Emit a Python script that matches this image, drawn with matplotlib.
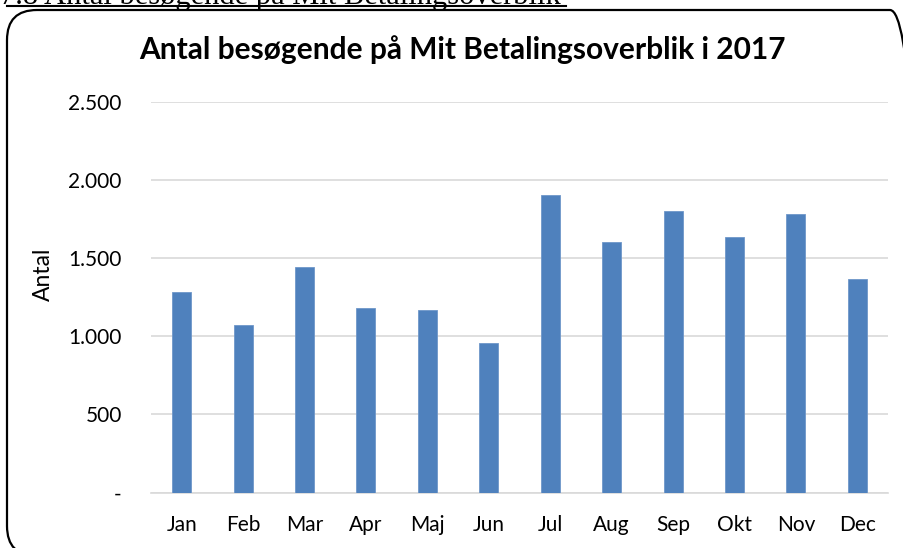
#!/usr/bin/env python3
# Bar chart: visitors on Mit Betalingsoverblik per month, 2017

from matplotlib import pyplot as plt
from matplotlib.patches import FancyBboxPatch
from matplotlib.lines import Line2D
from matplotlib.transforms import IdentityTransform
from matplotlib.ticker import FuncFormatter

months = ["Jan", "Feb", "Mar", "Apr", "Maj", "Jun", "Jul", "Aug", "Sep", "Okt", "Nov", "Dec"]
visitors = [1282, 1071, 1442, 1180, 1167, 956, 1902, 1602, 1804, 1638, 1781, 1365]
yTicks = [0, 500, 1000, 1500, 2000, 2500]

W, H = 904, 548
fig = plt.figure(figsize=(W / 100, H / 100), dpi=100)

# section heading above the chart box, mostly cut off at the top
fig.text(0 / W, 1 - 4 / H, "7.8 Antal besøgende på Mit Betalingsoverblik", family="Liberation Serif",
         fontsize=22, va="baseline", ha="left")
fig.add_artist(Line2D([7 / W, 566 / W], [1 - 5.5 / H, 1 - 5.5 / H], color="black", linewidth=1.5))

# rounded frame round the chart (pixel coords, origin bottom-left)
frame = FancyBboxPatch((7, H - 556), 913, 546, boxstyle="round,pad=0,rounding_size=30",
                       transform=IdentityTransform(), facecolor="none", edgecolor="black", linewidth=1.6)
fig.add_artist(frame)

ax = fig.add_axes([151 / W, 1 - 492.5 / H, 737 / W, 390.5 / H])
ax.bar(months, visitors, width=0.31, color="#4f81bd", edgecolor="#6f97c9", linewidth=0.6, zorder=3)
ax.set_ylim(0, 2500)
ax.set_xlim(-0.5, 11.5)
ax.set_yticks(yTicks)
ax.yaxis.set_major_formatter(FuncFormatter(lambda v, p: "-" if v == 0 else f"{int(v):,}".replace(",", ".")))
ax.grid(axis="y", color="#d9d9d9", linewidth=1.2, zorder=0)
for side in ["top", "right", "left"]:
    ax.spines[side].set_visible(False)
ax.spines["bottom"].set_color("#d9d9d9")
ax.spines["bottom"].set_linewidth(1.2)
ax.tick_params(length=0, labelsize=15, colors="black")
ax.tick_params(axis="y", pad=21)
ax.tick_params(axis="x", pad=16)
for lbl in ax.get_xticklabels() + ax.get_yticklabels():
    lbl.set_family("Lato")
ax.set_ylabel("Antal", fontsize=16.5, family="Lato")
ax.yaxis.set_label_coords(-97 / 737, 0.56)

fig.text(462 / W, 1 - 50 / H, "Antal besøgende på Mit Betalingsoverblik i 2017", family="Lato",
         fontweight="bold", fontsize=21.5, ha="center", va="center")

fig.savefig("out.png", dpi=100)
